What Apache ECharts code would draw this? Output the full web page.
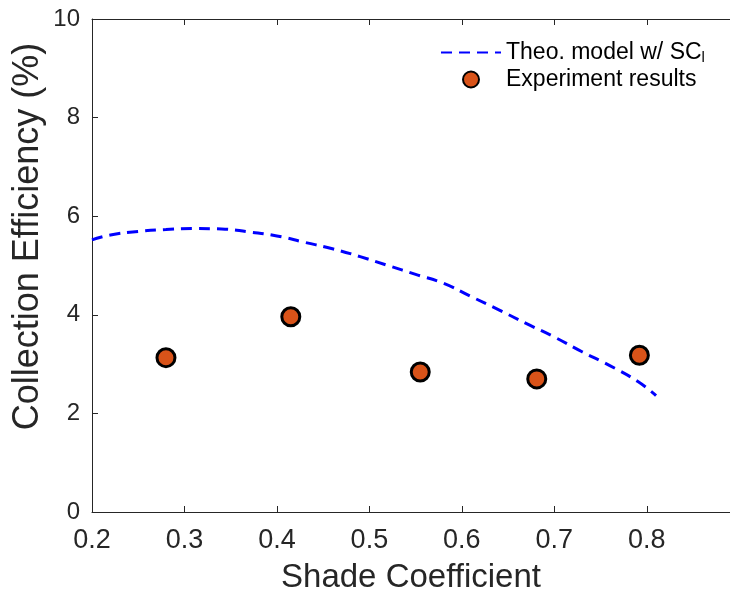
<!DOCTYPE html>
<html>
<head>
<meta charset="utf-8">
<script src="https://cdn.jsdelivr.net/npm/echarts@6/dist/echarts.min.js"></script>
<style>html,body{margin:0;padding:0;background:#fff;}#c{width:730px;height:594px;}</style>
</head>
<body>
<div id="c"></div>
<script>
var modelX = [0.20,0.22,0.25,0.28,0.31,0.34,0.37,0.40,0.43,0.46,0.49,0.52,0.55,0.58,0.61,0.64,0.67,0.70,0.73,0.76,0.79,0.81];
var modelY = [5.52,5.62,5.69,5.73,5.75,5.74,5.68,5.60,5.47,5.34,5.18,5.00,4.82,4.64,4.37,4.10,3.82,3.55,3.25,2.97,2.65,2.36];
var expX = [0.280,0.415,0.555,0.681,0.792];
var expY = [3.13,3.96,2.84,2.70,3.18];
var xTicks = [0.2,0.3,0.4,0.5,0.6,0.7,0.8];
var yTicks = [0,2,4,6,8,10];

var font = 'Liberation Sans, Arial, Helvetica, sans-serif';
var chart = echarts.init(document.getElementById('c'));
chart.setOption({
  animation: false,
  grid: {left: 92, right: 0, top: 19, bottom: 82, outerBoundsMode: 'none', containLabel: false},
  legend: {
    left: 440, top: 41, orient: 'vertical', itemGap: 3, padding: 0,
    itemWidth: 60, itemHeight: 16,
    textStyle: {fontFamily: font, fontSize: 23, color: '#000',
      rich: {a: {fontFamily: font, fontSize: 23, color: '#000'}, s: {fontFamily: font, fontSize: 15, color: '#000', padding: [10,0,0,0]}}},
    formatter: function (n) {
      if (n.indexOf('Theo') === 0) return '{a|Theo. model w/ SC}{s|l}';
      return '{a|' + n + '}';
    },
    data: [{name: 'Theo. model w/ SC', itemStyle: {opacity: 0}}, {name: 'Experiment results'}]
  },
  xAxis: [{
    type: 'value', min: 0.2, max: 0.89, interval: 0.1,
    name: 'Shade Coefficient', nameLocation: 'middle', nameGap: 49, nameMoveOverlap: false,
    nameTextStyle: {fontFamily: font, fontSize: 33, color: '#262626'},
    axisLine: {lineStyle: {color: '#262626', width: 1}},
    axisTick: {inside: true, length: 6, lineStyle: {color: '#262626'}},
    axisLabel: {fontFamily: font, fontSize: 27, color: '#262626', margin: 15,
      formatter: function (v) { return xTicks.indexOf(Math.round(v*10)/10) >= 0 ? v.toFixed(1) : ''; }},
    splitLine: {show: false}
  }, {
    type: 'value', position: 'top', min: 0.2, max: 0.89, interval: 0.1,
    axisLine: {lineStyle: {color: '#262626', width: 1}},
    axisTick: {inside: true, length: 6, lineStyle: {color: '#262626'}},
    axisLabel: {show: false}, splitLine: {show: false}
  }],
  yAxis: {
    type: 'value', min: 0, max: 10, interval: 2,
    name: 'Collection Efficiency (%)', nameLocation: 'middle', nameGap: 46, nameMoveOverlap: false,
    nameTextStyle: {fontFamily: font, fontSize: 36, color: '#262626', padding: [0, 0, 0, 58]},
    axisLine: {show: true, lineStyle: {color: '#262626', width: 1}},
    axisTick: {show: true, inside: true, length: 6, lineStyle: {color: '#262626'}},
    axisLabel: {fontFamily: font, fontSize: 24, color: '#262626', margin: 12,
      formatter: function (v) { return yTicks.indexOf(v) >= 0 ? String(v) : ''; }},
    splitLine: {show: false}
  },
  series: [{
    name: 'Theo. model w/ SC', type: 'line', smooth: true, symbol: 'none',
    data: modelX.map(function (x, i) { return [x, modelY[i]]; }),
    lineStyle: {color: '#0000FF', width: 3, type: [11, 7]},
    itemStyle: {color: '#0000FF'}
  }, {
    name: 'Experiment results', type: 'scatter', symbol: 'circle', symbolSize: 18,
    data: expX.map(function (x, i) { return [x, expY[i]]; }),
    itemStyle: {color: '#D95319', borderColor: '#000', borderWidth: 3, opacity: 1}
  }]
});
</script>
</body>
</html>
